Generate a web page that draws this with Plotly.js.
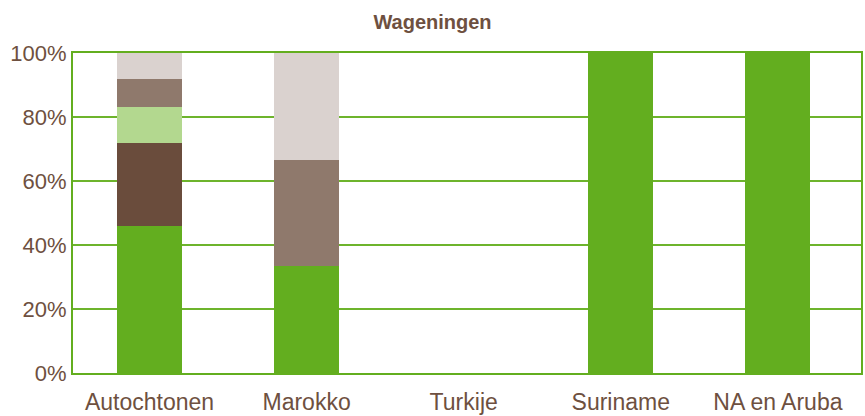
<!DOCTYPE html>
<html>
<head>
<meta charset="utf-8">
<script src="https://cdn.plot.ly/plotly-3.0.1.min.js"></script>
<style>html,body{margin:0;padding:0;background:#fff;}#chart{width:865px;height:416px;}</style>
</head>
<body>
<div id="chart"></div>
<script>
const categories = ["Autochtonen", "Marokko", "Turkije", "Suriname", "NA en Aruba"];
const seriesNames = ["Groep 1", "Groep 2", "Groep 3", "Groep 4", "Groep 5"];
const series1 = [46, 33.3, 0, 100, 100];
const series2 = [26, 0, 0, 0, 0];
const series3 = [11, 0, 0, 0, 0];
const series4 = [9, 33.3, 0, 0, 0];
const series5 = [8, 33.4, 0, 0, 0];
const seriesColors = ["#63ae1f", "#6a4c3c", "#b3d88f", "#8f796c", "#dad2cf"];
const yTickVals = [0, 20, 40, 60, 80, 100];
const yTickText = ["0%", "20%", "40%", "60%", "80%", "100%"];

const allSeries = [series1, series2, series3, series4, series5];
const traces = allSeries.map((vals, i) => ({
  type: "bar",
  name: seriesNames[i],
  x: categories,
  y: vals,
  marker: {color: seriesColors[i], line: {width: 0}},
  hoverinfo: "x+y"
}));

const textColor = "#6e5040";
const layout = {
  width: 865, height: 416,
  margin: {l: 73, r: 4, t: 53, b: 43},
  barmode: "stack",
  bargap: 0.586,
  showlegend: false,
  paper_bgcolor: "#fff",
  plot_bgcolor: "#fff",
  title: {text: "<b>Wageningen</b>", x: 0.5, xanchor: "center", y: 0.947, yanchor: "middle",
          font: {family: "Liberation Sans, Arial, sans-serif", size: 20, color: textColor}},
  font: {family: "Liberation Sans, Arial, sans-serif", size: 22, color: textColor},
  xaxis: {
    type: "category",
    range: [-0.487, 4.529],
    showgrid: false,
    showline: true, linecolor: "#63ae1f", linewidth: 2, mirror: true,
    ticks: "", ticklen: 0,
    ticklabelstandoff: 7,
    tickfont: {size: 23, color: textColor},
    automargin: false
  },
  yaxis: {
    range: [0, 100],
    tickvals: yTickVals, ticktext: yTickText,
    showgrid: true, gridcolor: "rgb(109,180,44)", gridwidth: 1.5,
    zeroline: false,
    showline: true, linecolor: "#63ae1f", linewidth: 2, mirror: true,
    ticks: "", ticklen: 0,
    tickfont: {size: 22, color: textColor},
    automargin: false
  }
};

Plotly.newPlot("chart", traces, layout, {displayModeBar: false, staticPlot: true});
</script>
</body>
</html>
